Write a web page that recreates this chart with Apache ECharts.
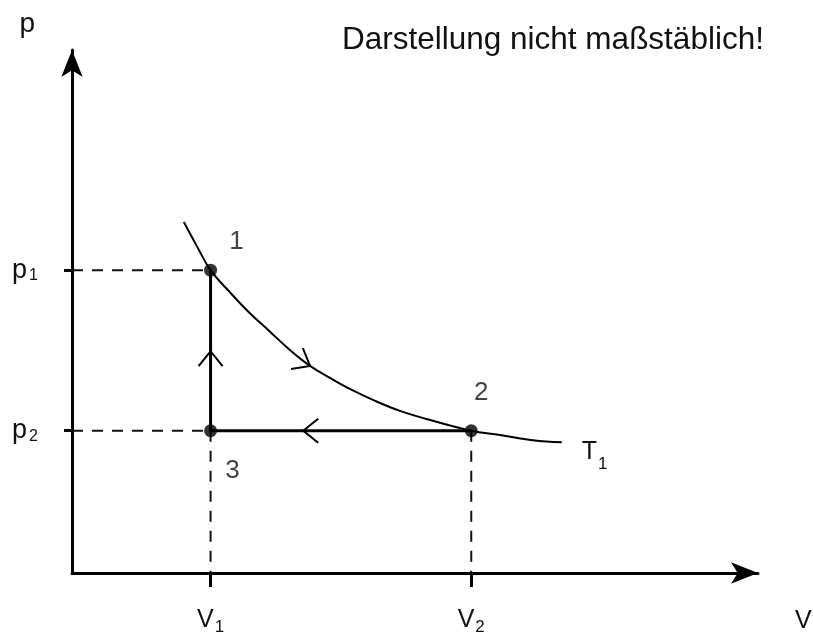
<!DOCTYPE html>
<html>
<head>
<meta charset="utf-8">
<script src="https://cdn.jsdelivr.net/npm/echarts@6/dist/echarts.min.js"></script>
<style>
  html, body { margin: 0; padding: 0; background: #fff; }
  #chart { width: 813px; height: 637px; }
</style>
</head>
<body>
<div id="chart"></div>
<script>
// p-V diagram: isothermal expansion 1 -> 2, isobaric compression 2 -> 3, isochoric heating 3 -> 1
const volumes = [20.2, 58.2];               // V1, V2
const pressures = [57.9, 27.2];             // p1, p2
const volumeTicks = ['{b|V}{i|1}', '{b|V}{i|2}'];
const pressureTicks = ['p{sy|1}', 'p{sy|2}'];

// isotherm T1
const isothermV = [16.3, 18.2, 20.2, 23.0, 25.9, 28.9, 31.8, 34.7, 37.6, 40.5, 44.2, 47.8, 52.6, 58.2, 62.4, 67.2, 71.4];
const isothermP = [67.1, 62.5, 57.9, 53.7, 49.7, 46.1, 42.6, 39.6, 37.3, 35.2, 32.9, 31.0, 29.1, 27.2, 26.4, 25.4, 25.0];

// states 1, 2, 3
const stateNames = ['1', '2', '3'];
const stateV = [volumes[0], volumes[1], volumes[0]];
const stateP = [pressures[0], pressures[1], pressures[1]];

// arrow heads: tip position and direction of travel
const arrowV = [20.2, 34.7, 33.7];
const arrowP = [42.4, 39.6, 27.2];
const arrowDirV = [0, 5.4, -1];
const arrowDirP = [1, -4.0, 0];

const FONT = '"Liberation Sans", Arial, sans-serif';
const INK = '#111';

const chart = echarts.init(document.getElementById('chart'), null, { renderer: 'canvas' });

function guide(from, to) {
  return {
    type: 'line',
    data: [from, to],
    showSymbol: false,
    silent: true,
    z: 1,
    lineStyle: { color: INK, width: 2, type: [11, 9] }
  };
}

// letter with a lowered index: the letter hangs from the top of the line,
// the index sits on the bottom of it
function indexStyles(size, indexSize, lineHeight) {
  return {
    b: { fontFamily: FONT, fontSize: size, color: INK, verticalAlign: 'top', lineHeight: 25 },
    i: { fontFamily: FONT, fontSize: indexSize, color: INK, verticalAlign: 'bottom', lineHeight: lineHeight, padding: [0, 0, 0, 1] }
  };
}

const stateLabelOffsets = [[26, -28], [10, -38], [22, 40]];

const option = {
  backgroundColor: '#fff',
  animation: false,
  title: {
    text: 'Darstellung nicht maßstäblich!',
    left: 342,
    top: 24,
    padding: 0,
    textStyle: { fontFamily: FONT, fontSize: 31.5, fontWeight: 'normal', color: INK }
  },
  grid: { left: 72, top: 50, right: 55, bottom: 64, containLabel: false, outerBoundsMode: 'none' },
  xAxis: {
    type: 'value',
    min: 0,
    max: 100,
    splitLine: { show: false },
    name: 'V',
    nameLocation: 'end',
    nameGap: 37,
    nameTextStyle: { fontFamily: FONT, fontSize: 25, color: INK, align: 'left', verticalAlign: 'top', padding: [36, 0, 0, 0] },
    axisLine: {
      show: true,
      onZero: false,
      symbol: ['none', 'arrow'],
      symbolSize: [16, 27],
      lineStyle: { color: '#000', width: 3 }
    },
    axisTick: { show: true, customValues: volumes, length: 14, inside: false, lineStyle: { color: '#000', width: 3 } },
    axisLabel: {
      show: true,
      customValues: volumes,
      margin: 35,
      formatter: (v) => volumeTicks[volumes.indexOf(v)],
      fontFamily: FONT,
      fontSize: 25,
      color: INK,
      rich: indexStyles(25, 17, 28)
    }
  },
  yAxis: {
    type: 'value',
    min: 0,
    max: 100,
    splitLine: { show: false },
    name: 'p',
    nameLocation: 'end',
    nameGap: 12,
    nameTextStyle: { fontFamily: FONT, fontSize: 28, color: INK, align: 'right', padding: [0, 37, 0, 0] },
    axisLine: {
      show: true,
      onZero: false,
      symbol: ['none', 'arrow'],
      symbolSize: [16, 27],
      lineStyle: { color: '#000', width: 3 }
    },
    axisTick: { show: true, customValues: pressures, length: 8, inside: false, lineStyle: { color: '#000', width: 3 } },
    axisLabel: {
      show: true,
      customValues: pressures,
      margin: 34,
      formatter: (v) => pressureTicks[pressures.indexOf(v)],
      fontFamily: FONT,
      fontSize: 27,
      color: INK,
      rich: {
        sy: { fontFamily: FONT, fontSize: 16, color: INK, verticalAlign: 'bottom', lineHeight: 16, padding: [8, 0, 0, 2] }
      }
    }
  },
  series: [
    // dashed guide lines to the axes
    guide([0, pressures[0]], [volumes[0], pressures[0]]),
    guide([0, pressures[1]], [volumes[0], pressures[1]]),
    guide([volumes[0], pressures[1]], [volumes[0], 0]),
    guide([volumes[1], pressures[1]], [volumes[1], 0]),
    {
      // isotherm T1
      type: 'line',
      data: isothermV.map((v, i) => [v, isothermP[i]]),
      smooth: 0.4,
      showSymbol: false,
      silent: true,
      z: 3,
      lineStyle: { color: '#000', width: 2 },
      endLabel: {
        show: true,
        formatter: '{b|T}{i|1}',
        distance: 20,
        offset: [0, 14],
        fontFamily: FONT,
        fontSize: 25,
        color: INK,
        rich: indexStyles(25, 17, 33)
      }
    },
    {
      // isochoric 3 -> 1 and isobaric 2 -> 3
      type: 'line',
      data: [[volumes[0], pressures[0]], [volumes[0], pressures[1]], [volumes[1], pressures[1]]],
      showSymbol: false,
      silent: true,
      z: 4,
      lineStyle: { color: '#000', width: 3 }
    },
    {
      // state points
      type: 'scatter',
      data: stateNames.map((name, i) => ({
        name,
        value: [stateV[i], stateP[i]],
        label: { offset: stateLabelOffsets[i] }
      })),
      symbol: 'circle',
      symbolSize: 13,
      silent: true,
      z: 5,
      itemStyle: { color: '#000' },
      label: {
        show: true,
        position: 'inside',
        formatter: (p) => p.name,
        fontFamily: FONT,
        fontSize: 26,
        color: INK
      }
    },
    {
      // direction arrows
      type: 'custom',
      data: arrowV.map((v, i) => [v, arrowP[i], arrowDirV[i], arrowDirP[i]]),
      silent: true,
      z: 6,
      renderItem: (params, api) => {
        const x = api.value(0), y = api.value(1);
        const tip = api.coord([x, y]);
        const ahead = api.coord([x + api.value(2), y + api.value(3)]);
        const ang = Math.atan2(ahead[1] - tip[1], ahead[0] - tip[0]);
        const L = 15, W = 12;
        const c = Math.cos(ang), s = Math.sin(ang);
        const bx = tip[0] - L * c, by = tip[1] - L * s;
        return {
          type: 'polyline',
          shape: { points: [[bx - W * s, by + W * c], tip, [bx + W * s, by - W * c]] },
          style: { stroke: '#000', lineWidth: 2, fill: null }
        };
      }
    }
  ]
};

chart.setOption(option);
</script>
</body>
</html>
